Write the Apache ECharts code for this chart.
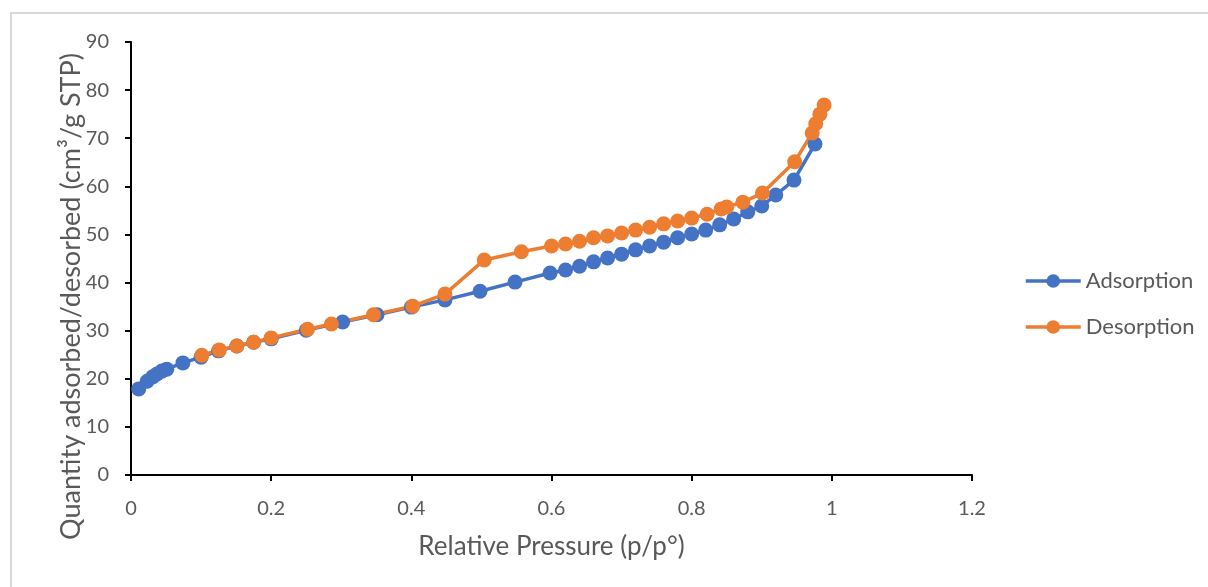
<!DOCTYPE html>
<html>
<head>
<meta charset="utf-8">
<script src="https://cdn.jsdelivr.net/npm/echarts@6/dist/echarts.min.js"></script>
<style>
  html, body { margin: 0; padding: 0; background: #fff; }
  #frame {
    position: absolute; left: 10px; top: 12px; width: 1210px; height: 600px;
    border: 2px solid #d9d9d9; box-sizing: border-box;
  }
  #chart { position: absolute; left: 0; top: 0; width: 1208px; height: 587px; }
</style>
</head>
<body>
<div id="frame"></div>
<div id="chart"></div>
<script>
// adsorption branch (p/p0, quantity)
const adsX = [0.011, 0.023, 0.031, 0.037, 0.044, 0.051, 0.074, 0.1, 0.125, 0.151, 0.175, 0.2,
  0.25, 0.302, 0.351, 0.4, 0.448, 0.498, 0.548, 0.598, 0.62, 0.64, 0.66, 0.68, 0.7, 0.72,
  0.74, 0.76, 0.78, 0.8, 0.82, 0.84, 0.86, 0.88, 0.9, 0.92, 0.946, 0.976];
const adsY = [17.9, 19.5, 20.4, 21.0, 21.6, 22.0, 23.3, 24.5, 25.8, 26.8, 27.6, 28.3,
  30.1, 31.8, 33.3, 34.9, 36.4, 38.2, 40.1, 42.0, 42.6, 43.4, 44.3, 45.1, 45.9, 46.8,
  47.6, 48.4, 49.3, 50.1, 50.9, 52.0, 53.2, 54.7, 55.9, 58.2, 61.3, 68.8];

// desorption branch
const desX = [0.989, 0.983, 0.977, 0.972, 0.947, 0.901, 0.873, 0.85, 0.842, 0.822, 0.8,
  0.78, 0.76, 0.74, 0.72, 0.7, 0.68, 0.66, 0.64, 0.62, 0.6, 0.557, 0.504, 0.448, 0.402,
  0.346, 0.286, 0.252, 0.2, 0.175, 0.151, 0.126, 0.101];
const desY = [76.9, 75.0, 73.0, 71.1, 65.1, 58.6, 56.7, 55.7, 55.3, 54.2, 53.4,
  52.8, 52.2, 51.5, 50.9, 50.3, 49.7, 49.3, 48.6, 48.0, 47.6, 46.4, 44.7, 37.6, 35.1,
  33.3, 31.4, 30.3, 28.5, 27.6, 26.8, 26.0, 24.9];

const xTicks = [0, 0.2, 0.4, 0.6, 0.8, 1, 1.2];

const pairs = (xs, ys) => xs.map((x, i) => [x, ys[i]]);
const fontFam = "Lato, 'Open Sans', sans-serif";

const chart = echarts.init(document.getElementById("chart"));
chart.setOption({
  animation: false,
  textStyle: { fontFamily: fontFam },
  grid: { left: 131, right: 236, top: 42, bottom: 112 },
  legend: {
    orient: "vertical",
    left: 1019,
    top: 265,
    itemWidth: 55,
    itemHeight: 17,
    itemGap: 24,
    lineStyle: { width: 3.5 },
    textStyle: { color: "#595959", fontSize: 22, fontFamily: fontFam },
    data: ["Adsorption", "Desorption"]
  },
  xAxis: {
    type: "value",
    min: 0,
    max: 1.2,
    interval: 0.2,
    name: "Relative Pressure (p/p°)",
    nameLocation: "middle",
    nameGap: 59,
    nameMoveOverlap: false,
    nameTextStyle: { color: "#595959", fontSize: 26 },
    axisLine: { lineStyle: { color: "#000", width: 2 } },
    axisTick: { show: true, length: 6, lineStyle: { color: "#000", width: 2 } },
    axisLabel: {
      color: "#595959", fontSize: 20, margin: 24,
      formatter: v => xTicks.includes(Math.round(v * 10) / 10) ? String(Math.round(v * 10) / 10) : ""
    },
    splitLine: { show: false }
  },
  yAxis: {
    type: "value",
    min: 0,
    max: 90,
    interval: 10,
    name: "Quantity adsorbed/desorbed (cm³/g STP)",
    nameLocation: "middle",
    nameGap: 46,
    nameMoveOverlap: false,
    nameTextStyle: { color: "#595959", fontSize: 27, padding: [0, 76, 0, 0] },
    axisLine: { show: true, lineStyle: { color: "#000", width: 2 } },
    axisTick: { show: true, length: 6, lineStyle: { color: "#000", width: 2 } },
    axisLabel: { color: "#595959", fontSize: 20, margin: 22 },
    splitLine: { show: false }
  },
  series: [
    {
      name: "Adsorption",
      type: "line",
      data: pairs(adsX, adsY),
      symbol: "circle",
      symbolSize: 15,
      color: "#4472C4",
      lineStyle: { width: 3.5, color: "#4472C4" },
      itemStyle: { color: "#4472C4" }
    },
    {
      name: "Desorption",
      type: "line",
      data: pairs(desX, desY),
      symbol: "circle",
      symbolSize: 15,
      color: "#ED7D31",
      lineStyle: { width: 3.5, color: "#ED7D31" },
      itemStyle: { color: "#ED7D31" }
    }
  ]
});
</script>
</body>
</html>
